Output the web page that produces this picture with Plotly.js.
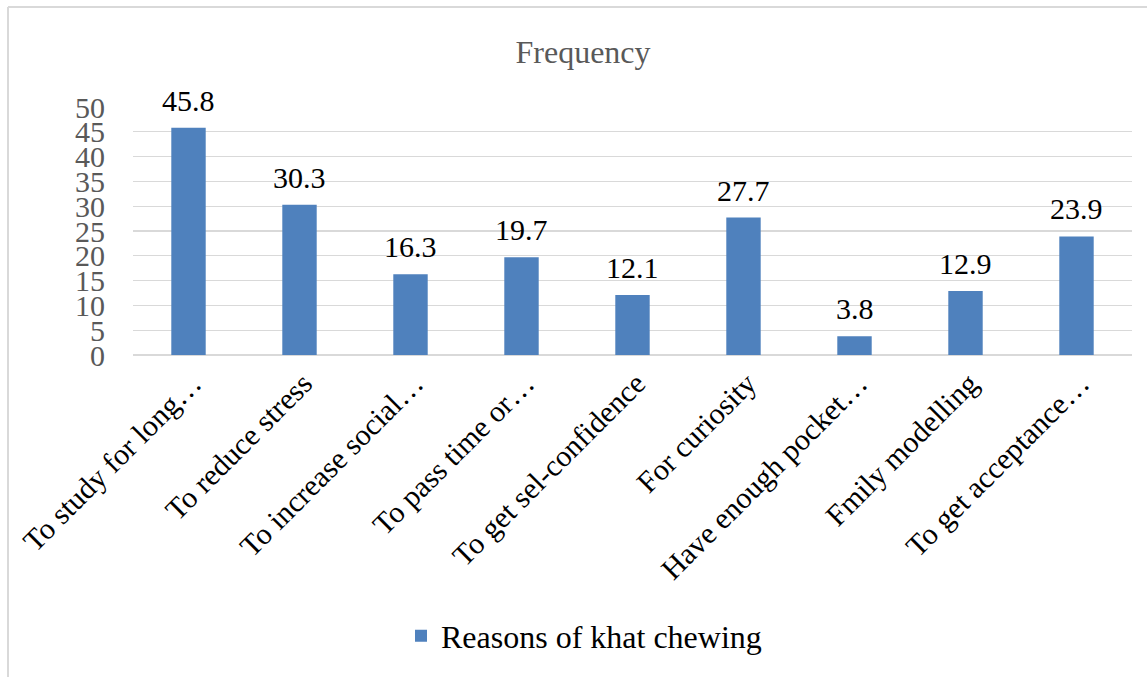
<!DOCTYPE html>
<html>
<head>
<meta charset="utf-8">
<script src="https://cdn.plot.ly/plotly-3.0.1.min.js"></script>
<style>html,body{margin:0;padding:0;background:#fff;}#chart{width:1147px;height:677px;}</style>
</head>
<body>
<div id="chart"></div>
<script>
const categories = [
  "To study for long…",
  "To reduce stress",
  "To increase social…",
  "To pass time or…",
  "To get sel-confidence",
  "For curiosity",
  "Have enough pocket…",
  "Fmily modelling",
  "To get acceptance…"
];
const values = [45.8, 30.3, 16.3, 19.7, 12.1, 27.7, 3.8, 12.9, 23.9];
const valueLabels = ["45.8", "30.3", "16.3", "19.7", "12.1", "27.7", "3.8", "12.9", "23.9"];
const seriesName = "Reasons of khat chewing";
const yTicks = [0, 5, 10, 15, 20, 25, 30, 35, 40, 45, 50];

const serif = "Liberation Serif";

const trace = {
  type: "bar",
  x: categories,
  y: values,
  name: seriesName,
  marker: {color: "#4F81BD", line: {width: 0}},
  hoverinfo: "x+y",
  showlegend: true
};

// data labels placed through the axes (category, value)
const labelAnnotations = categories.map((c, i) => ({
  x: c, y: values[i], xref: "x", yref: "y",
  text: valueLabels[i],
  showarrow: false,
  xanchor: "center", yanchor: "bottom",
  yshift: 9,
  font: {family: serif, size: 30, color: "#000000"}
}));

// plot area in px: left 133, right 1132, top 107, bottom 355
const L = 133, R = 1132, T = 107, B = 355;
const px2x = p => (p - L) / (R - L);
const px2y = p => (B - p) / (B - T);

const layout = {
  width: 1147,
  height: 677,
  paper_bgcolor: "#ffffff",
  plot_bgcolor: "#ffffff",
  margin: {l: L, r: 1147 - R, t: T, b: 677 - B, pad: 0},
  title: {
    text: "Frequency",
    font: {family: serif, size: 32, color: "#595959"},
    x: px2x(583), xanchor: "center",
    y: 1 - 52 / 677, yanchor: "middle",
    xref: "paper", yref: "container"
  },
  bargap: 0.69,
  xaxis: {
    type: "category",
    tickangle: -45,
    tickfont: {family: serif, size: 30, color: "#000000"},
    showgrid: false,
    showline: false,
    ticks: "",
    ticklabelshift: 4,
    ticklabelstandoff: 4,
    automargin: false
  },
  yaxis: {
    range: [0, 50],
    tickvals: yTicks,
    ticktext: yTicks.map(String),
    tickfont: {family: serif, size: 30, color: "#595959"},
    showgrid: true,
    gridcolor: "#d9d9d9",
    gridwidth: 1.3,
    zeroline: true,
    zerolinecolor: "#d9d9d9",
    zerolinewidth: 1.3,
    showline: false,
    ticks: "",
    ticklabelstandoff: 27,
    automargin: false
  },
  showlegend: true,
  legend: {
    orientation: "h",
    x: px2x(584), xanchor: "center",
    y: px2y(636), yanchor: "middle",
    font: {family: serif, size: 32, color: "#000000"},
    itemwidth: 30,
    bgcolor: "rgba(0,0,0,0)"
  },
  annotations: labelAnnotations,
  shapes: [
    {type: "line", xref: "paper", yref: "paper",
     x0: px2x(8), x1: px2x(1147), y0: px2y(7), y1: px2y(7),
     line: {color: "#d9d9d9", width: 2}},
    {type: "line", xref: "paper", yref: "paper",
     x0: px2x(8), x1: px2x(8), y0: px2y(7), y1: px2y(677),
     line: {color: "#d9d9d9", width: 2}}
  ]
};

Plotly.newPlot("chart", [trace], layout, {displayModeBar: false, staticPlot: true});
</script>
</body>
</html>
